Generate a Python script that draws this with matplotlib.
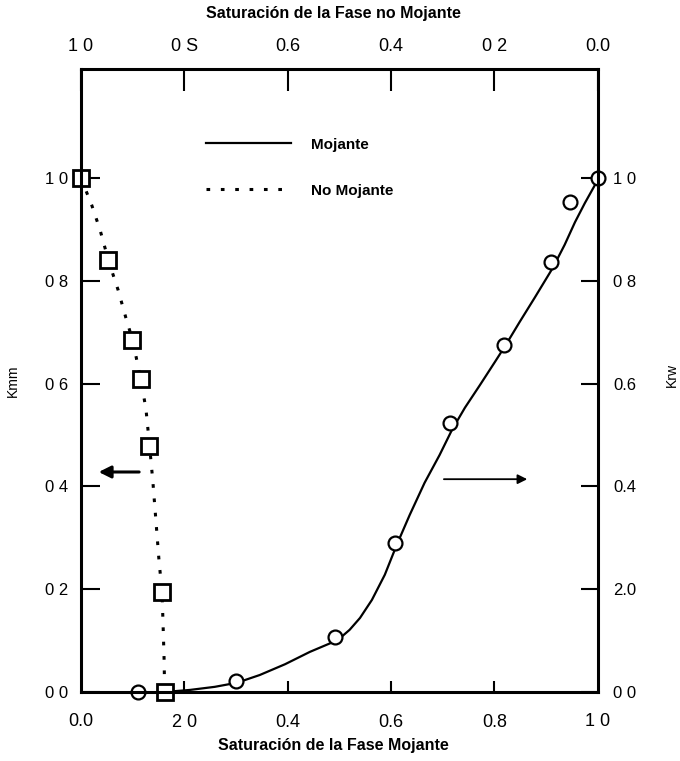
import numpy as np
import matplotlib
matplotlib.use('Agg')
import matplotlib.pyplot as plt

plt.rcParams['font.family'] = ['Liberation Sans', 'DejaVu Sans']

# Puntos medidos - fase no mojante (cuadrados)
sw_nm = [0.0, 0.052, 0.098, 0.116, 0.131, 0.157, 0.162]
krnw = [1.0, 0.84, 0.684, 0.609, 0.478, 0.195, 0.0]

# Curva ajustada - fase no mojante
sw_nm_curva = [0.0, 0.021, 0.037, 0.054, 0.072, 0.087, 0.101, 0.110, 0.118, 0.126,
               0.133, 0.139, 0.145, 0.151, 0.157, 0.159, 0.161, 0.162]
krnw_curva = [1.0, 0.947, 0.899, 0.837, 0.782, 0.728, 0.681, 0.636, 0.597, 0.549,
              0.477, 0.412, 0.335, 0.257, 0.193, 0.130, 0.062, 0.0]

# Puntos medidos - fase mojante (circulos)
sw_m = [0.11, 0.30, 0.492, 0.608, 0.714, 0.818, 0.909, 0.946, 1.0]
krw = [0.0, 0.021, 0.107, 0.29, 0.523, 0.675, 0.837, 0.953, 1.0]

# Curva ajustada - fase mojante
sw_m_curva = [0.162, 0.211, 0.259, 0.302, 0.346, 0.395, 0.443, 0.497, 0.520, 0.540,
              0.563, 0.588, 0.611, 0.636, 0.665, 0.694, 0.718, 0.743, 0.772, 0.801,
              0.822, 0.849, 0.878, 0.913, 0.936, 0.956, 0.975, 1.0]
krw_curva = [0.0, 0.004, 0.010, 0.018, 0.033, 0.054, 0.078, 0.101, 0.121, 0.144,
             0.179, 0.228, 0.286, 0.344, 0.407, 0.461, 0.510, 0.553, 0.597, 0.642,
             0.675, 0.720, 0.767, 0.825, 0.870, 0.914, 0.951, 0.996]

# Etiquetas de los ejes
ticks = [0.0, 0.2, 0.4, 0.6, 0.8, 1.0]
etiq_inf = ['0.0', '2 0', '0.4', '0.6', '0.8', '1 0']
etiq_sup = ['1 0', '0 S', '0.6', '0.4', '0 2', '0.0']
etiq_izq = ['0 0', '0 2', '0 4', '0 6', '0 8', '1 0']
etiq_der = ['0 0', '2.0', '0.4', '0.6', '0 8', '1 0']

fig = plt.figure(figsize=(6.8, 7.61), dpi=100)
ax = fig.add_axes([0.119, 0.0907, 0.760, 0.8186])

ax.plot(sw_m_curva, krw_curva, color='black', lw=1.6, label='Mojante')
ax.plot(sw_nm_curva, krnw_curva, color='black', lw=2.2, linestyle=(0, (1.2, 3.5)),
        label='No Mojante')
ax.plot(sw_nm, krnw, 's', ms=11, mfc='white', mec='black', mew=2.0, clip_on=False)
ax.plot(sw_m, krw, 'o', ms=10, mfc='white', mec='black', mew=1.6, clip_on=False)

# Flechas que indican el eje de cada curva
ax.annotate('', xy=(0.029, 0.428), xytext=(0.118, 0.428),
            arrowprops=dict(arrowstyle='-|>', color='black', lw=2.2, mutation_scale=18))
ax.annotate('', xy=(0.869, 0.414), xytext=(0.697, 0.414),
            arrowprops=dict(arrowstyle='-|>', color='black', lw=1.3, mutation_scale=14))

ax.set_xlim(0, 1.0)
ax.set_ylim(0, 1.212)

for lado in ax.spines.values():
    lado.set_linewidth(2.2)

ax.set_xticks(ticks[1:-1])
ax.set_xticklabels(etiq_inf[1:-1])
ax.tick_params(axis='x', direction='in', length=8, width=1.5, pad=16, labelsize=13)
for x, t in [(ticks[0], etiq_inf[0]), (ticks[-1], etiq_inf[-1])]:
    ax.text(x, -0.047, t, ha='center', va='center', fontsize=13,
            transform=ax.get_xaxis_transform())
ax.set_yticks(ticks)
ax.set_yticklabels(etiq_izq)
ax.tick_params(axis='y', direction='in', length=14, width=1.5, pad=9, labelsize=12)
ax.set_ylabel('Kmm', fontsize=10, labelpad=18)

sup = ax.secondary_xaxis('top', functions=(lambda x: 1 - x, lambda x: 1 - x))
sup.set_xticks(ticks[::-1])
sup.set_xticklabels(etiq_sup)
sup.tick_params(direction='in', length=16, width=1.5, pad=10, labelsize=13)

der = ax.secondary_yaxis('right')
der.set_yticks(ticks)
der.set_yticklabels(etiq_der)
der.tick_params(direction='in', length=12, width=1.5, pad=11, labelsize=12)

fig.text(0.988, 0.507, 'Krw', rotation=90, fontsize=10, ha='center', va='center')

ax.legend(loc='upper left', bbox_to_anchor=(0.215, 0.912), frameon=False,
          handlelength=5.6, handletextpad=1.3, labelspacing=2.1,
          prop={'weight': 'bold', 'size': 11})

fig.text(0.49, 0.982, 'Saturación de la Fase no Mojante', ha='center', va='center',
         fontsize=11.5, fontweight='bold')
fig.text(0.49, 0.021, 'Saturación de la Fase Mojante', ha='center', va='center',
         fontsize=11.5, fontweight='bold')

plt.savefig('out.png', dpi=100)
